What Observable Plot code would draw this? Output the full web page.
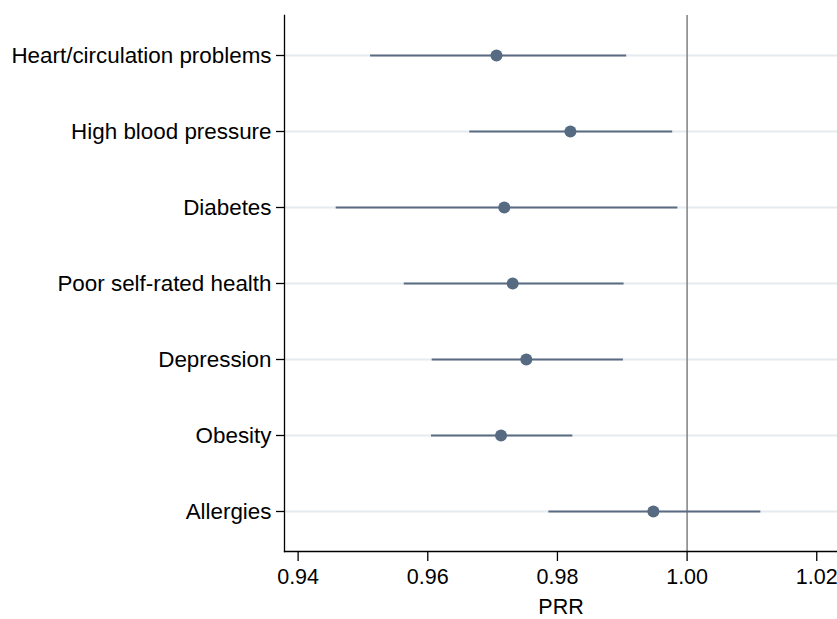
<!DOCTYPE html>
<html><head><meta charset="utf-8">
<script src="https://cdn.jsdelivr.net/npm/d3@7"></script>
<script src="https://cdn.jsdelivr.net/npm/@observablehq/plot@0.6"></script>
<style>body{margin:0;background:#fff}</style>
</head><body><div id="chart"></div>
<script>
const outcomes = ["Heart/circulation problems","High blood pressure","Diabetes","Poor self-rated health","Depression","Obesity","Allergies"];
const prr   = [0.9706, 0.9820, 0.9718, 0.9731, 0.9752, 0.9713, 0.9948];
const lower = [0.9511, 0.9664, 0.9458, 0.9563, 0.9606, 0.9605, 0.9786];
const upper = [0.9906, 0.9977, 0.9985, 0.9902, 0.9901, 0.9823, 1.0113];
const xTicks = [0.94, 0.96, 0.98, 1.00, 1.02];
const refLine = [1];

const data = outcomes.map((o, i) => ({outcome: o, prr: prr[i], lo: lower[i], hi: upper[i]}));

const chart = Plot.plot({
  width: 837, height: 619,
  marginLeft: 284, marginRight: 0, marginTop: 15, marginBottom: 68,
  style: {fontFamily: "'Liberation Sans', Arial, sans-serif", background: "white", color: "black"},
  x: {domain: [0.9379, 1.0232]},
  y: {domain: outcomes, type: "point", padding: 0.5},
  marks: [
    Plot.gridY({stroke: "#e6ebef", strokeOpacity: 1, strokeWidth: 2}),
    Plot.ruleX(refLine, {stroke: "#808080", strokeWidth: 1.5}),
    Plot.link(data, {x1: "lo", x2: "hi", y1: "outcome", y2: "outcome", stroke: "#5a6b82", strokeWidth: 2}),
    Plot.dot(data, {x: "prr", y: "outcome", r: 6, fill: "#566a82"}),
    Plot.axisY({tickSize: 8, tickPadding: 5, fontSize: 22.4, label: null, strokeWidth: 1.3}),
    Plot.axisX({ticks: xTicks, tickFormat: ".2f", tickSize: 10, tickPadding: 7, fontSize: 21.5, strokeWidth: 1.3,
                label: "PRR", labelAnchor: "center", labelArrow: "none", labelOffset: 62}),
    Plot.frame({anchor: "left", strokeWidth: 1.3}),
    Plot.frame({anchor: "bottom", strokeWidth: 1.3})
  ]
});
document.getElementById("chart").appendChild(chart);
</script>
</body></html>
